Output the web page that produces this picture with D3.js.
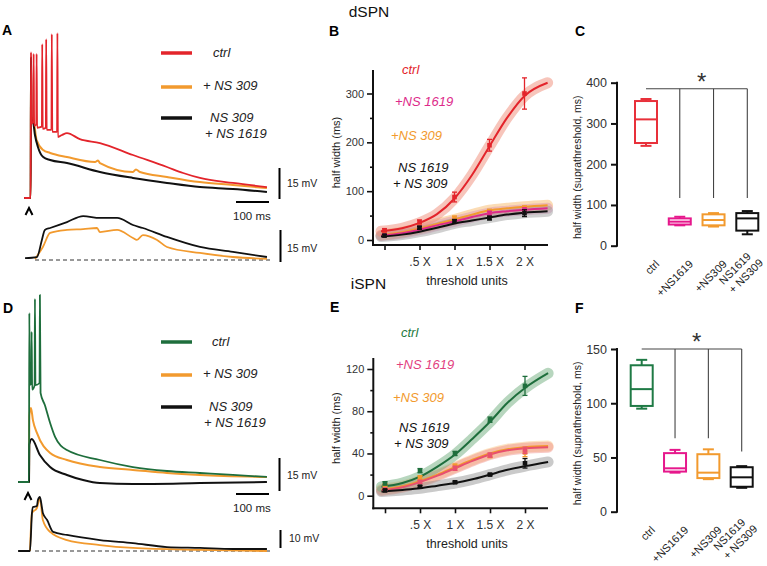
<!DOCTYPE html>
<html><head><meta charset="utf-8">
<script src="https://cdn.jsdelivr.net/npm/d3@7"></script>
<style>body{margin:0;background:#fff}svg{display:block}</style>
</head><body>
<script>
// ================= DATA =================
// Panel A (dSPN) traces: [time in ms from stimulus, mV above baseline]
const A_ctrl = [[-21,0],[-1,0],[0,70.6],[1.5,36],[7,37],[8,69.7],[9.5,35],[16,35.5],[17,69.7],[18.5,34],[33,34.5],[34,74.5],[35.5,33.5],[45,34],[46,76.9],[47.5,33],[62,33],[63,79.3],[64.5,32],[79,32],[80,79.8],[81.5,29.5],[94,30.5],[109,31.4],[148,28.5],[209,26.6],[309,20.8],[412,15.0],[461,12.1],[512,9.7],[612,7.3],[715,5.3]];
const A_ns309 = [[-21,0],[-1,0],[0,68],[1.5,38],[6,38.7],[17,28],[37,23.2],[58,21.8],[109,19.8],[194,17.4],[203,18.2],[209,16.9],[309,12.6],[318,13.8],[330,12.6],[412,10.2],[512,7.7],[612,6.3],[715,4.8]];
const A_combo = [[-21,0],[-1,0],[0,68],[1.5,38],[6,37.2],[12,30.5],[21,24.7],[37,19.8],[58,18.4],[109,16.9],[209,12.6],[309,9.7],[412,7.3],[512,5.3],[612,4.4],[715,2.9]];
const A_subCombo = [[-18,0.9],[18,1.4],[33,9.4],[42,14.1],[58,15.0],[109,17.8],[158,20.6],[209,19.7],[261,19.7],[309,16.4],[339,15.0],[412,10.8],[512,6.1],[612,3.8],[715,1.4]];
const A_subNs309 = [[12,0.5],[36,6.1],[58,12.7],[109,14.1],[158,14.5],[200,15.0],[209,13.1],[261,14.1],[309,10.3],[321,9.4],[339,11.7],[382,9.4],[412,6.1],[512,3.3],[612,1.4],[715,0.5]];
// Panel D (iSPN) traces
const D_ctrl = [[-33,0],[0,0],[1,76.8],[2.5,44],[7,45],[8,68.2],[9.5,42],[17,44],[18,83.2],[19.5,44],[32,45],[33,85],[35,40.5],[48,35],[64,26.8],[79,20.5],[115,14.5],[215,10.0],[315,6.8],[418,5.0],[518,4.1],[618,3.2],[721,2.3]];
const D_ns309 = [[-33,0],[0,0],[1,30],[6,33.6],[12,28],[24,22.3],[64,13.2],[115,10.0],[215,6.8],[315,5.5],[418,4.1],[518,3.2],[721,2.3]];
const D_combo = [[-33,0],[0,0],[1,17],[8,19.5],[33,12.3],[64,6.8],[115,3.2],[164,0.9],[215,-0.5],[315,-0.9],[518,-0.5],[721,0]];
const D_subCombo = [[-33,0],[3,0],[9,21.1],[12,24.4],[24,25],[27,28.3],[33,30],[39,24.4],[42,21.1],[55,17.2],[73,10.6],[115,8.9],[215,6.1],[315,4.4],[418,2.2],[518,1.7],[618,1.1],[721,1.1]];
const D_subNs309 = [[3,0],[9,21.1],[24,23.9],[33,29.4],[42,17.2],[64,10.6],[115,6.1],[215,3.3],[315,1.7],[518,0.6],[721,0]];

// Panels B / E: half width vs threshold units
const thrX = [0, 0.5, 1, 1.5, 2];
const thrTickLabels = ["", ".5 X", "1 X", "1.5 X", "2 X"];
const fitX = [-0.05, 0.25, 0.5, 0.75, 1, 1.25, 1.5, 1.75, 2, 2.33];

const B_ctrl = [20, 37, 88, 194, 300],      B_ctrlErr = [3, 4, 10, 12, 32];
const B_ns1619 = [10, 25, 38, 55, 61],      B_ns1619Err = [2, 3, 4, 4, 5];
const B_ns309 = [12, 27, 45, 59, 64],       B_ns309Err = [2, 3, 4, 4, 6];
const B_combo = [9, 25, 38, 45, 55],        B_comboErr = [2, 3, 4, 4, 7];
const fitB_ctrl = [18, 24, 35, 53, 85, 133, 192, 250, 295, 322];
const fitB_ns309 = [10, 16, 24, 33, 42, 52, 61, 65, 68, 71];
const fitB_ns1619 = [9, 14, 21, 30, 38, 47, 55, 59, 62, 65];
const fitB_combo = [7, 11, 17, 25, 34, 40, 46, 52, 56, 59];

const E_ctrl = [11.7, 23.7, 40, 72, 104],   E_ctrlErr = [1.5, 2, 2, 2.5, 9];
const E_ns1619 = [6, 13, 26, 38.5, 43],     E_ns1619Err = [1, 1.5, 2, 2, 3];
const E_ns309 = [10, 17, 28, 38, 41],       E_ns309Err = [1, 2, 2, 2, 4];
const E_combo = [5, 8.5, 12.7, 20, 30.7],   E_comboErr = [1, 1, 1, 1, 4.5];
const fitE_ctrl = [8.5, 12, 18, 27.5, 39, 54, 70, 88, 102, 116];
const fitE_ns1619 = [5, 8, 13, 19, 26, 33, 39, 43, 45, 46];
const fitE_ns309 = [6, 9, 14, 20, 27, 34, 40, 44, 46, 47];
const fitE_combo = [4, 5.5, 7, 9.5, 12, 15.5, 20, 24.5, 28, 32];

// Panels C / F: box plots
const boxCats = ["ctrl", "+NS1619", "+NS309", "NS1619|+ NS309"];
const C_min = [245, 50, 47, 28], C_q1 = [252, 52, 50, 37], C_med = [310, 59, 63, 67], C_q3 = [355, 67, 77, 80], C_max = [360, 71, 80, 85];
const F_min = [95, 36, 30, 22], F_q1 = [97.5, 37, 31, 23], F_med = [113, 40, 36, 31.7], F_q3 = [135, 54, 53, 41], F_max = [140, 57, 57.5, 42];
const C_bracketTop = 385, C_bracketDrop = [117, 117, 117];
const F_bracketTop = 150, F_bracketDrop = [67.7, 67.7, 55.4];

// ================= DRAWING =================
const FF = '"Liberation Sans", Arial, Helvetica, sans-serif';
const RED = "#e3242b", ORANGE = "#f29a2e", BLACK = "#111", PINK = "#dd2a8a", GREEN = "#1e6e3c";
const svg = d3.select("body").append("svg").attr("width", 767).attr("height", 566);

function text(x, y, s, o = {}) {
  const t = svg.append("text").attr("x", x).attr("y", y).text(s)
    .attr("font-family", FF).attr("font-size", o.size || 12).attr("fill", o.fill || "#222");
  if (o.anchor) t.attr("text-anchor", o.anchor);
  if (o.italic) t.attr("font-style", "italic");
  if (o.bold) t.attr("font-weight", "bold");
  if (o.rotate != null) t.attr("transform", `rotate(${o.rotate},${x},${y})`);
  return t;
}
function line(x1, y1, x2, y2, c, w, dash) {
  const l = svg.append("line").attr("x1", x1).attr("y1", y1).attr("x2", x2).attr("y2", y2)
    .attr("stroke", c).attr("stroke-width", w);
  if (dash) l.attr("stroke-dasharray", dash);
  return l;
}
function trace(data, xs, ys, color, w) {
  svg.append("path").datum(data).attr("fill", "none").attr("stroke", color).attr("stroke-width", w)
    .attr("stroke-linejoin", "round")
    .attr("d", d3.line().x(d => xs(d[0])).y(d => ys(d[1])).curve(d3.curveMonotoneX));
}

// ---------- Panel labels & headers ----------
[["A", 2, 35], ["B", 329, 36], ["C", 575, 36], ["D", 3, 313], ["E", 330, 312], ["F", 575, 313]]
  .forEach(([s, x, y]) => text(x, y, s, { size: 14, bold: true, fill: "#000" }));
text(369, 17, "dSPN", { size: 15.5, anchor: "middle", fill: "#111" });
text(368.5, 289, "iSPN", { size: 15.5, anchor: "middle", fill: "#111" });

// ---------- Trace panels (A, D) ----------
function tracePanel(cfg) {
  const xs = d3.scaleLinear().domain([0, 100]).range([cfg.t0, cfg.t0 + 33]);
  const yU = d3.scaleLinear().domain([0, 15]).range([cfg.baseU, cfg.baseU - cfg.pxU * 15]);
  const yL = d3.scaleLinear().domain([0, 10]).range([cfg.baseL, cfg.baseL - cfg.pxL * 10]);
  cfg.upper.forEach(([d, c, w]) => trace(d, xs, yU, c, w));
  line(35, cfg.baseL, 270, cfg.baseL, "#333", 1, "4,3");
  cfg.lower.forEach(([d, c, w]) => trace(d, xs, yL, c, w));
  cfg.legend.forEach(([c, ly, lines]) => {
    line(161, ly, 192, ly, c, 3.5);
    lines.forEach(([s, x, y]) => text(x, y, s, { size: 13, italic: true, fill: "#222" }));
  });
  const vU = yU(0) - yU(15);
  line(279.5, cfg.barU, 279.5, cfg.barU - vU, "#000", 2);
  text(287, cfg.barU - 12, "15 mV", { size: 10.5 });
  const h100 = xs(100) - xs(0);
  line(236, cfg.barH, 236 + h100, cfg.barH, "#000", 2);
  text(233, cfg.barH + 18, "100 ms", { size: 11.5 });
  const vL = yL(0) - yL(cfg.lowMv);
  line(280.5, cfg.barL, 280.5, cfg.barL - vL, "#000", 2);
  text(cfg.lowMv === 10 ? 289 : 287, cfg.barL - (cfg.lowMv === 10 ? 6 : 10), cfg.lowMv + " mV", { size: 10.5 });
  const a = cfg.arrow;
  svg.append("path").attr("d", `M${a[0] - 3.5},${a[1] + 3.5}L${a[0]},${a[1] - 3.5}L${a[0] + 3.5},${a[1] + 3.5}`)
    .attr("fill", "none").attr("stroke", "#000").attr("stroke-width", 2);
}

tracePanel({
  t0: 31, baseU: 198, pxU: 31 / 15, baseL: 260, pxL: 32 / 15, lowMv: 15,
  upper: [[A_ns309, ORANGE, 2], [A_combo, BLACK, 2], [A_ctrl, RED, 1.8]],
  lower: [[A_subNs309, ORANGE, 1.8], [A_subCombo, BLACK, 1.8]],
  legend: [[RED, 53, [["ctrl", 213, 57]]], [ORANGE, 87, [["+ NS 309", 203, 90]]],
           [BLACK, 118, [["NS 309", 210, 122], ["+ NS 1619", 205, 138]]]],
  barU: 199, barH: 202, barL: 262, arrow: [29, 211.5]
});
tracePanel({
  t0: 29, baseU: 482, pxU: 33 / 15, baseL: 551, pxL: 1.8, lowMv: 10,
  upper: [[D_ns309, ORANGE, 2], [D_combo, BLACK, 2], [D_ctrl, GREEN, 1.8]],
  lower: [[D_subNs309, ORANGE, 1.8], [D_subCombo, BLACK, 1.8]],
  legend: [[GREEN, 342, [["ctrl", 212, 346]]], [ORANGE, 375, [["+ NS 309", 203, 378]]],
           [BLACK, 407, [["NS 309", 209, 410.5], ["+ NS 1619", 204, 426.5]]]],
  barU: 491, barH: 494, barL: 548, arrow: [28, 496.5]
});

// ---------- Threshold panels (B, E) ----------
function threshPanel(cfg) {
  const xs = d3.scaleLinear().domain([0, 2]).range(cfg.xr);
  const ys = d3.scaleLinear().domain(cfg.yd).range(cfg.yr);
  const lg = d3.line().x(d => xs(d[0])).y(d => ys(d[1])).curve(d3.curveMonotoneX);
  cfg.series.forEach(s => {
    svg.append("path").datum(fitX.map((x, i) => [x, s.fit[i]])).attr("d", lg).attr("fill", "none")
      .attr("stroke", s.band).attr("stroke-opacity", s.bandOp).attr("stroke-width", 11)
      .attr("stroke-linecap", "round").attr("stroke-linejoin", "round");
  });
  cfg.series.forEach(s => {
    svg.append("path").datum(fitX.map((x, i) => [x, s.fit[i]])).attr("d", lg).attr("fill", "none")
      .attr("stroke", s.line || s.color).attr("stroke-width", 2);
  });
  cfg.series.forEach(s => {
    const g = svg.append("g");
    thrX.forEach((x, i) => {
      const cx = xs(x), v = s.vals[i], e = s.err[i];
      g.append("line").attr("x1", cx).attr("x2", cx).attr("y1", ys(v - e)).attr("y2", ys(v + e)).attr("stroke", s.color).attr("stroke-width", 1.3);
      [v - e, v + e].forEach(vv => g.append("line").attr("x1", cx - 2.5).attr("x2", cx + 2.5).attr("y1", ys(vv)).attr("y2", ys(vv)).attr("stroke", s.color).attr("stroke-width", 1.3));
      g.append("rect").attr("x", cx - 2.3).attr("y", ys(v) - 2.3).attr("width", 4.6).attr("height", 4.6).attr("fill", s.color);
    });
  });
  line(cfg.ax, cfg.ayTop, cfg.ax, cfg.ayBot + 1, "#111", 2);
  line(cfg.ax - 1, cfg.ayBot, 548, cfg.ayBot, "#111", 2);
  const gy = svg.append("g").attr("transform", `translate(${cfg.ax},0)`)
    .call(d3.axisLeft(ys).tickValues(cfg.yTicks).tickSize(6).tickPadding(3).tickSizeOuter(0));
  const gm = svg.append("g").attr("transform", `translate(${cfg.ax},0)`)
    .call(d3.axisLeft(ys).tickValues(cfg.yMinor).tickSize(3).tickFormat("").tickSizeOuter(0));
  const gx = svg.append("g").attr("transform", `translate(0,${cfg.ayBot})`)
    .call(d3.axisBottom(xs).tickValues(thrX).tickFormat((d, i) => thrTickLabels[i]).tickSize(5).tickPadding(7).tickSizeOuter(0));
  [gy, gm, gx].forEach(g => {
    g.select(".domain").remove();
    g.attr("font-family", FF);
    g.selectAll("line").attr("stroke", "#111").attr("stroke-width", 1.6);
    g.selectAll("text").attr("fill", "#333");
  });
  gy.attr("font-size", 11); gx.attr("font-size", 12);
  text(cfg.ylabX, (cfg.ayTop + cfg.ayBot) / 2 - 5, "half width (ms)", { size: 11, anchor: "middle", rotate: -90, fill: "#222" });
  text(467, cfg.ayBot + 39.5, "threshold units", { size: 12.5, anchor: "middle", fill: "#222" });
  cfg.legend.forEach(([s, x, y, c]) => text(x, y, s, { size: 13, italic: true, fill: c }));
}

threshPanel({
  xr: [384.5, 524.5], yd: [0, 300], yr: [240, 93.5], ax: 373, ayTop: 70, ayBot: 245,
  yTicks: [0, 100, 200, 300], yMinor: [50, 150, 250], ylabX: 340,
  series: [
    { vals: B_ns309, err: B_ns309Err, fit: fitB_ns309, color: ORANGE, band: "#f7b25a", bandOp: 0.45 },
    { vals: B_ns1619, err: B_ns1619Err, fit: fitB_ns1619, color: PINK, band: "#d987b4", bandOp: 0.4 },
    { vals: B_combo, err: B_comboErr, fit: fitB_combo, color: BLACK, band: "#8a8a8a", bandOp: 0.4 },
    { vals: B_ctrl, err: B_ctrlErr, fit: fitB_ctrl, color: RED, band: "#f08c78", bandOp: 0.5 }
  ],
  legend: [["ctrl", 402, 74, RED], ["+NS 1619", 395, 106, PINK], ["+NS 309", 391, 140, ORANGE],
           ["NS 1619", 398, 171.5, "#111"], ["+ NS 309", 393, 188, "#111"]]
});
threshPanel({
  xr: [385, 525], yd: [0, 120], yr: [495.7, 369], ax: 373.3, ayTop: 358, ayBot: 508.3,
  yTicks: [0, 40, 80, 120], yMinor: [20, 60, 100], ylabX: 340,
  series: [
    { vals: E_ns309, err: E_ns309Err, fit: fitE_ns309, color: ORANGE, band: "#f7b25a", bandOp: 0.35 },
    { vals: E_ns1619, err: E_ns1619Err, fit: fitE_ns1619, color: "#e8506e", band: "#ef8a80", bandOp: 0.45 },
    { vals: E_combo, err: E_comboErr, fit: fitE_combo, color: BLACK, band: "#8a8a8a", bandOp: 0.45 },
    { vals: E_ctrl, err: E_ctrlErr, fit: fitE_ctrl, color: GREEN, band: "#6fae7e", bandOp: 0.5 }
  ],
  legend: [["ctrl", 401, 337, "#1e7a3e"], ["+NS 1619", 396, 369, "#e23f7f"], ["+NS 309", 393, 401.5, ORANGE],
           ["NS 1619", 399, 431.5, "#111"], ["+ NS 309", 394, 448, "#111"]]
});

// ---------- Box panels (C, F) ----------
function boxPanel(cfg) {
  const xs = d3.scalePoint().domain(boxCats).range(cfg.xr);
  const ys = d3.scaleLinear().domain(cfg.yd).range(cfg.yr);
  boxCats.forEach((c, i) => {
    const cx = xs(c), col = cfg.colors[i], g = svg.append("g");
    g.append("line").attr("x1", cx).attr("x2", cx).attr("y1", ys(cfg.min[i])).attr("y2", ys(cfg.max[i])).attr("stroke", col).attr("stroke-width", 2);
    [cfg.min[i], cfg.max[i]].forEach(v => g.append("line").attr("x1", cx - 5.5).attr("x2", cx + 5.5).attr("y1", ys(v)).attr("y2", ys(v)).attr("stroke", col).attr("stroke-width", 2));
    g.append("rect").attr("x", cx - 11).attr("width", 22).attr("y", ys(cfg.q3[i])).attr("height", ys(cfg.q1[i]) - ys(cfg.q3[i]))
      .attr("fill", "#fff").attr("stroke", col).attr("stroke-width", 2);
    g.append("line").attr("x1", cx - 11).attr("x2", cx + 11).attr("y1", ys(cfg.med[i])).attr("y2", ys(cfg.med[i])).attr("stroke", col).attr("stroke-width", 2);
    const parts = c.split("|");
    const multi = parts.length > 1;
    const tg = svg.append("g").attr("transform", `translate(${cx + (multi ? 9 : 14)},${cfg.yr[0] + (multi ? 16 : 19)}) rotate(-45)`);
    parts.forEach((p, j) => {
      tg.append("text").attr("x", j * 4).attr("y", (j - (parts.length - 1) / 2) * 13).attr("text-anchor", "end")
        .attr("font-family", FF).attr("font-size", 11).attr("fill", "#222").text(p);
    });
  });
  const yTop = ys(cfg.brTop);
  line(xs(boxCats[0]), yTop, xs(boxCats[3]), yTop, "#444", 1.1);
  cfg.brDrop.forEach((v, j) => line(xs(boxCats[j + 1]), yTop, xs(boxCats[j + 1]), ys(v), "#444", 1.1));
  text(xs(boxCats[0]) + (xs(boxCats[3]) - xs(boxCats[0])) * 0.55, yTop + 1, "*", { size: 24, anchor: "middle", fill: "#333" });
  line(cfg.ax, cfg.yr[1] - 1, cfg.ax, cfg.yr[0] + 1, "#111", 2);
  const gy = svg.append("g").attr("transform", `translate(${cfg.ax},0)`)
    .call(d3.axisLeft(ys).tickValues(cfg.ticks).tickSize(6).tickPadding(4).tickSizeOuter(0));
  gy.select(".domain").remove();
  gy.attr("font-family", FF).attr("font-size", 12.5);
  gy.selectAll("line").attr("stroke", "#111").attr("stroke-width", 2);
  gy.selectAll("text").attr("fill", "#333");
  text(581, (cfg.yr[0] + cfg.yr[1]) / 2 + 3, "half width (suprathreshold, ms)", { size: 10.5, anchor: "middle", rotate: -90, fill: "#222" });
}

boxPanel({
  xr: [646, 747.3], yd: [0, 400], yr: [245.7, 82.7], ax: 617, ticks: [0, 100, 200, 300, 400],
  min: C_min, q1: C_q1, med: C_med, q3: C_q3, max: C_max,
  colors: ["#e8303a", "#e6188c", ORANGE, BLACK], brTop: C_bracketTop, brDrop: C_bracketDrop
});
boxPanel({
  xr: [641.7, 741.7], yd: [0, 150], yr: [511.7, 349], ax: 617, ticks: [0, 50, 100, 150],
  min: F_min, q1: F_q1, med: F_med, q3: F_q3, max: F_max,
  colors: ["#1f7a45", "#e6188c", ORANGE, BLACK], brTop: F_bracketTop, brDrop: F_bracketDrop
});
</script>
</body></html>
